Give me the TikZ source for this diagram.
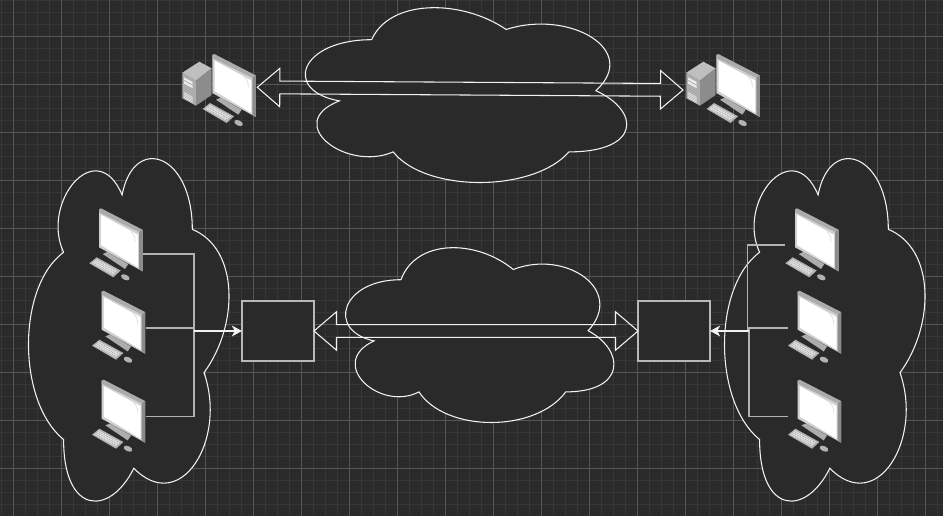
\documentclass[tikz,border=0pt]{standalone}
\usepackage{tikz}
\usetikzlibrary{arrows.meta,calc,shapes.arrows}

\definecolor{canvasdark}{HTML}{2A2A2A}
\definecolor{gridminor}{HTML}{363636}
\definecolor{gridmajor}{HTML}{565656}
\definecolor{pale}{HTML}{F2F2F2}

\tikzset{
  cloudline/.style={draw=pale,line width=0.8pt,fill=canvasdark},
  wire/.style={draw=black!30,line width=1.1pt},
  feed/.style={draw=pale,line width=1.3pt,-{Stealth[length=7.5pt,width=8pt,inset=2pt]}},
  netbox/.style={draw=black!28,line width=1.1pt,fill=canvasdark,minimum width=54pt,minimum height=45pt,inner sep=0pt,outer sep=0pt},
  linkarrow/.style={double arrow,draw=pale,line width=0.8pt,inner xsep=0pt,inner ysep=4.39pt,double arrow head extend=9.64pt,double arrow tip angle=81},
  cloudshape/.pic={
    \path[cloudline] (0.25,0.25) .. controls (0.05,0.25) and (0,0.5) .. (0.16,0.55)
      .. controls (0,0.66) and (0.18,0.9) .. (0.31,0.8)
      .. controls (0.4,1) and (0.7,1) .. (0.8,0.8)
      .. controls (1,0.8) and (1,0.6) .. (0.875,0.5)
      .. controls (1,0.3) and (0.8,0.1) .. (0.625,0.2)
      .. controls (0.5,0.05) and (0.3,0.05) .. (0.25,0.25) -- cycle ;
  },
  terminal/.pic={
    %Shape: stand and keyboard
    \fill[black!32] (3.7,44.7) -- (8.3,42.7) -- (29.3,54.7) -- (26,59.7) -- cycle ;
    \fill[black!30] (-9.7,54) -- (-2.3,48) -- (21.7,61.3) -- (14.3,68) -- cycle ;
    \fill[black!12] (-7.2,54) -- (-2.3,50) -- (18.7,61.5) -- (14,65.5) -- cycle ;
    \foreach \k in {0,1,2}
      \draw[black!45,line width=0.3pt,dash pattern={on 0.7pt off 0.7pt}] (-5.8+1.6*\k,53.8-1.3*\k) -- (15.2+1.6*\k,65.1-1.3*\k) ;
    \fill[black!30,rotate around={25:(26.3,68)}] (26.3,68) ellipse (4.6 and 2.6) ;
    %Shape: monitor
    \fill[black!18] (0,0) -- (43.5,22.4) -- (43.5,62) -- (0,38) -- cycle ;
    \fill[black!33] (0,0) -- (2,-1) -- (43.5,20.4) -- (43.5,24.5) -- (0,3) -- cycle ;
    \fill[black!45] (40,23) -- (43.5,20.4) -- (43.5,62) -- (40,60) -- cycle ;
    \fill[white] (2.2,5.5) -- (39,25.5) -- (39,58) -- (2.2,36) -- cycle ;
    \draw[black!14,line width=0.5pt] (31.5,22) .. controls (34.5,24) and (36.3,27.5) .. (36.1,32.5) ;
  },
  desktop/.pic={
    %Shape: tower
    \fill[black!32] (-30,17.7) -- (-30,43.3) -- (-16.3,50.7) -- (-16.3,25.7) -- cycle ;
    \fill[black!25] (-30,17.7) -- (-13,6.7) -- (-0.7,13.3) -- (-16.3,25.7) -- cycle ;
    \fill[black!45] (-16.3,25.7) -- (-0.7,13.3) -- (-0.7,40) -- (-16.3,50.7) -- cycle ;
    \fill[black!8] (-28.3,22.3) -- (-19.7,27) -- (-19.7,29.5) -- (-28.3,24.8) -- cycle ;
    \fill[black!8] (-28.3,26) -- (-19.7,30.7) -- (-19.7,33.2) -- (-28.3,28.5) -- cycle ;
    \foreach \k in {0,...,3}
      \draw[black!8,line width=0.5pt] (-28.3,37.5+1.7*\k) -- (-19.7,42.2+1.7*\k) ;
    \pic {terminal};
  },
}

\begin{document}
\begin{tikzpicture}[x=0.75pt,y=0.75pt,yscale=-1,xscale=1,transform shape]
\useasboundingbox (0,0) rectangle (943,516);

%Shape: canvas and grid
\fill[canvasdark] (0,0) rectangle (943,516);
\foreach \k in {0,...,78} \draw[gridminor,line width=0.75pt] ({1.5+12*\k},0) -- ({1.5+12*\k},516) ;
\foreach \k in {0,...,43} \draw[gridminor,line width=0.75pt] (0,{0.5+12*\k}) -- (943,{0.5+12*\k}) ;
\foreach \k in {0,...,19} \draw[gridmajor,line width=0.75pt] ({13.5+48*\k},0) -- ({13.5+48*\k},516) ;
\foreach \k in {0,...,10} \draw[gridmajor,line width=0.75pt] (0,{36.5+48*\k}) -- (943,{36.5+48*\k}) ;

%Shape: clouds
\pic[xscale=358.7,yscale=204] (cloudTop) at (282,-11.3) {cloudshape};
\pic[xscale=299.5,yscale=204] (cloudMid) at (326.1,228.7) {cloudshape};
\pic[xscale=234,yscale=382.2,shift={(1,0)},rotate=90] (cloudLeft) at (16.8,133.8) {cloudshape};
\pic[xscale=234,yscale=382.2,shift={(1,0)},rotate=90] (cloudRight) at (712.8,133.8) {cloudshape};

%Shape: computers
\pic (hostA) at (212.3,55) {desktop};
\pic (hostB) at (716.3,55) {desktop};
\pic (leftA) at (99,209.3) {terminal};
\pic (leftB) at (101.7,291.7) {terminal};
\pic (leftC) at (101.7,380.7) {terminal};
\pic (rightA) at (795,209.3) {terminal};
\pic (rightB) at (797.7,291.7) {terminal};
\pic (rightC) at (797.7,380.7) {terminal};

%Shape: boxes
\node[netbox] (boxLeft) at (278,331) {};
\node[netbox] (boxRight) at (674,331) {};

%Straight Lines: left group
\coordinate (portLA) at (142.7,254);
\coordinate (portLB) at (146,328);
\coordinate (portLC) at (146,416.7);
\coordinate (busL) at (194,331);
\draw[wire] (portLA) -| (busL) ;
\draw[wire] (portLC) -| (busL) ;
\draw[wire] (portLB) -- (portLB -| busL) ;
\draw[feed] (busL) -- (boxLeft.west) ;

%Straight Lines: right group
\coordinate (portRA) at (785,245);
\coordinate (portRB) at (787.7,328);
\coordinate (portRC) at (787.7,416.7);
\coordinate (busRA) at (747.3,331);
\coordinate (busR) at (749,331);
\draw[wire] (portRA) -| (busRA) ;
\draw[wire] (portRC) -| (portRB -| busR) -- (portRB) ;
\draw[feed] (busR) -- (boxRight.east) ;

%Shape: double arrows
\coordinate (tipTopA) at (257.3,87.3);
\coordinate (tipTopB) at (683,90);
\node[linkarrow,minimum height=319.3pt,rotate=0.36] (linkTop) at ($(tipTopA)!0.5!(tipTopB)$) {};
\node[linkarrow,minimum height=243pt] (linkMid) at ($(boxLeft.east)!0.5!(boxRight.west)$) {};
\end{tikzpicture}
\end{document}
